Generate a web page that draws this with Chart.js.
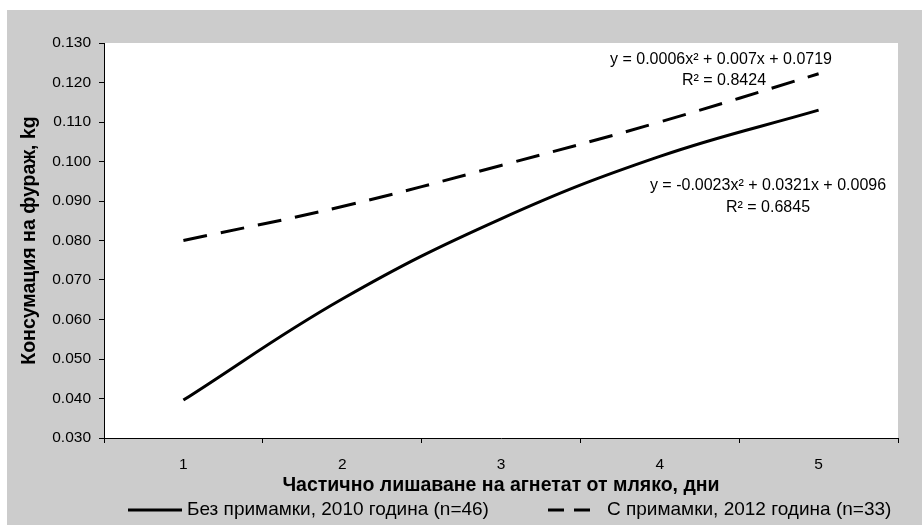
<!DOCTYPE html>
<html>
<head>
<meta charset="utf-8">
<script src="https://cdn.jsdelivr.net/npm/chart.js@4/dist/chart.umd.min.js"></script>
<style>
html, body { margin: 0; padding: 0; background: #fff; }
</style>
</head>
<body>
<canvas id="myChart" width="922" height="525"></canvas>
<script>
// days of partial milk deprivation
var days = ['1', '2', '3', '4', '5'];
// feed consumption, kg (trend lines)
var noBait2010 = [0.0396, 0.0652, 0.0855, 0.1013, 0.1130];
var withBait2012 = [0.0800, 0.0886, 0.0990, 0.1100, 0.1222];
var seriesNames = ['Без примамки, 2010 година (n=46)', 'С примамки, 2012 година (n=33)'];
var yMin = 0.03, yMax = 0.13, yStep = 0.01;
var trendNoBait = ['y = -0.0023x² + 0.0321x + 0.0096', 'R² = 0.6845'];
var trendWithBait = ['y = 0.0006x² + 0.007x + 0.0719', 'R² = 0.8424'];

var FONT = 'Liberation Sans, Arial, sans-serif';

var background = {
    id: 'background',
    beforeDraw: function (chart) {
        var c = chart.ctx, a = chart.chartArea;
        c.save();
        c.fillStyle = '#cccccc';
        c.fillRect(7, 10, chart.width - 7, chart.height - 10);
        c.fillStyle = '#ffffff';
        c.fillRect(a.left, a.top, a.right - a.left, a.bottom - a.top);
        c.restore();
    }
};

// trendline equations, as Excel puts them
var equations = {
    id: 'equations',
    afterDatasetsDraw: function (chart) {
        var c = chart.ctx;
        c.save();
        c.fillStyle = '#000';
        c.font = '16px ' + FONT;
        c.textAlign = 'center';
        c.textBaseline = 'middle';
        c.fillText(trendWithBait[0], 721, 60);
        c.fillText(trendWithBait[1], 724, 81);
        c.fillText(trendNoBait[0], 768, 186);
        c.fillText(trendNoBait[1], 768, 208);
        c.restore();
    }
};

// legend below the axis title, spaced like the original
var bottomLegend = {
    id: 'bottomLegend',
    afterDraw: function (chart) {
        var c = chart.ctx;
        var y = 510;
        var items = [
            { x: 128, w: 54, dash: [], tx: 187 },
            { x: 548, w: 44, dash: [16, 10], tx: 607 }
        ];
        c.save();
        c.font = '19px ' + FONT;
        c.textBaseline = 'middle';
        c.textAlign = 'left';
        items.forEach(function (it, i) {
            c.strokeStyle = '#000';
            c.lineWidth = 3;
            c.setLineDash(it.dash);
            c.beginPath();
            c.moveTo(it.x, y);
            c.lineTo(it.x + it.w, y);
            c.stroke();
            c.fillStyle = '#000';
            c.fillText(chart.data.datasets[i].label, it.tx, y);
        });
        c.restore();
    }
};

var ctx = document.getElementById('myChart').getContext('2d');
new Chart(ctx, {
    type: 'line',
    data: {
        labels: days,
        datasets: [{
            label: seriesNames[0],
            data: noBait2010,
            borderColor: '#000',
            backgroundColor: '#000',
            borderWidth: 3,
            pointRadius: 0,
            tension: 0.4,
            fill: false
        }, {
            label: seriesNames[1],
            data: withBait2012,
            borderColor: '#000',
            backgroundColor: '#000',
            borderWidth: 3,
            borderDash: [24, 14],
            pointRadius: 0,
            tension: 0.4,
            fill: false
        }]
    },
    options: {
        responsive: false,
        animation: false,
        layout: { padding: { top: 43, right: 24, left: 0, bottom: 20 } },
        plugins: {
            tooltip: { enabled: false },
            legend: { display: false }
        },
        scales: {
            x: {
                offset: true,
                afterFit: function (s) { s.height = 67; },
                grid: { offset: true, drawOnChartArea: false, drawTicks: true, tickLength: 5, color: '#000' },
                border: { color: '#000', width: 1 },
                ticks: { color: '#000', font: { family: FONT, size: 15.5 }, padding: 12 },
                title: {
                    display: true,
                    text: 'Частично лишаване на агнетат от мляко, дни',
                    color: '#000',
                    font: { family: FONT, size: 19.5, weight: 'bold' },
                    padding: { top: 0, bottom: 8 }
                }
            },
            y: {
                min: yMin,
                max: yMax,
                afterFit: function (s) { s.width = 104; },
                grid: { drawOnChartArea: false, drawTicks: true, tickLength: 5, color: '#000' },
                border: { color: '#000', width: 1 },
                ticks: {
                    stepSize: yStep,
                    color: '#000',
                    font: { family: FONT, size: 15.5 },
                    padding: 8,
                    callback: function (v) { return v.toFixed(3); }
                },
                title: {
                    display: true,
                    text: 'Консумация на фураж, kg',
                    color: '#000',
                    font: { family: FONT, size: 19.5, weight: 'bold' },
                    padding: { top: 18.3, bottom: 0 }
                }
            }
        }
    },
    plugins: [background, equations, bottomLegend]
});
</script>
</body>
</html>
